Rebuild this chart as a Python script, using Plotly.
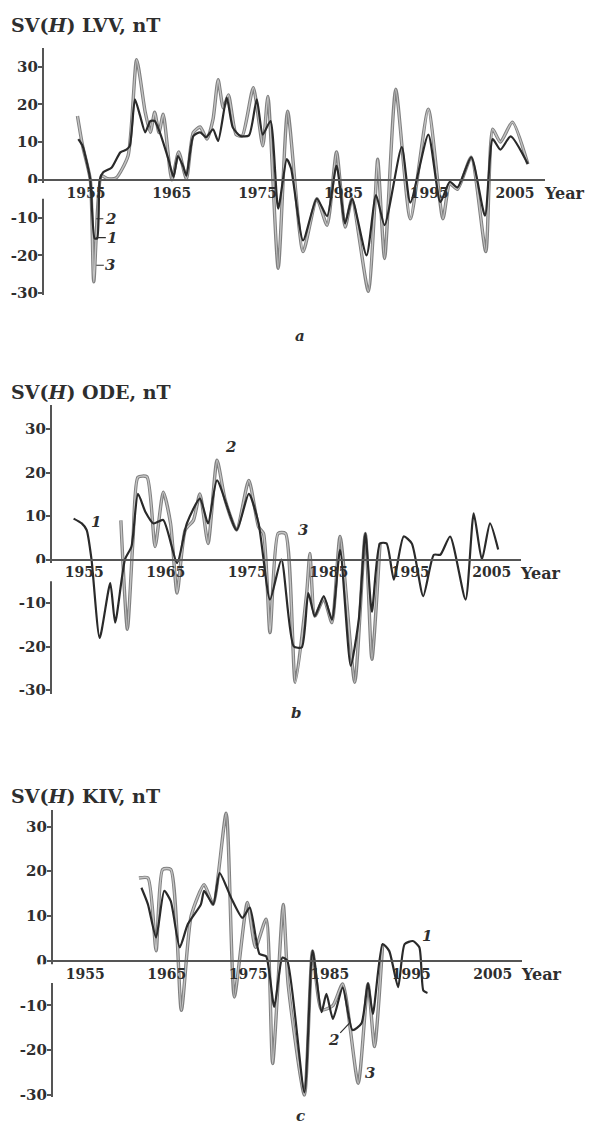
import plotly.graph_objects as go

# ---------------- data ----------------
# Panel a: LVV
years_a1 = [1954.1, 1954.6, 1955.0, 1955.5, 1956.0, 1956.3, 1956.6, 1957.0, 1958.0, 1959.0,
            1959.7, 1960.1, 1960.7, 1961.3, 1961.9, 1962.5, 1963.0, 1963.6, 1964.6, 1965.2,
            1965.7, 1966.3, 1966.7, 1967.5, 1968.3, 1969.0, 1969.8, 1970.4, 1971.4, 1972.1,
            1973.0, 1974.0, 1974.9, 1975.6, 1976.5, 1977.4, 1978.4, 1978.9, 1980.3, 1981.9,
            1983.1, 1984.2, 1985.2, 1986.0, 1987.7, 1988.8, 1989.8, 1991.8, 1992.8, 1994.9,
            1996.3, 1997.4, 1998.3, 1999.9, 2001.5, 2002.4, 2003.3, 2004.5, 2006.5]
sv_a1 = [10.8, 9, 5.5, 0, -15.5, -15.5, 0, 2, 3.3, 7.3,
         8, 9, 21.3, 17, 12.6, 15.6, 15.6, 12.6, 5.5, 0.8,
         6.3, 3.7, 1.1, 11.6, 12.6, 11.3, 13.4, 10.3, 21.8, 13.9,
         11.6, 11.8, 21.3, 12, 15.6, -7.6, 5.5, 3, -16, -5,
         -9.6, 3.8, -11.5, -5, -20, -4, -12, 8.7, -6, 12,
         -5.9, -0.5, -2, 6, -9.5, 10.8, 8, 11.5, 4.2]
years_a3 = [1954.0, 1954.6, 1955.5, 1955.9, 1956.8, 1957.5, 1958.5, 1959.9, 1960.9, 1961.9,
            1962.5, 1963.0, 1963.5, 1964.0, 1965.0, 1965.8, 1966.7, 1967.5, 1968.3, 1969.1,
            1969.8, 1970.4, 1971.0, 1971.6, 1972.5, 1973.2, 1974.5, 1975.6, 1976.2, 1977.4,
            1978.5, 1980.3, 1981.9, 1983.1, 1984.2, 1985.2, 1986.0, 1987.9, 1988.7, 1989.0,
            1989.8, 1991.1, 1992.8, 1994.9, 1996.6, 1997.4, 1998.3, 1999.9, 2001.6, 2002.4,
            2003.3, 2004.7, 2006.5]
sv_a3 = [16.9, 9, 0, -27, 1.1, 0.3, 0.5, 6.4, 31.8, 17.9,
         12.6, 17.9, 12.5, 17.4, 0, 7.4, 0.3, 12.5, 14, 10.8,
         16, 26.5, 19, 22.5, 12, 11.6, 24.4, 9, 22.1, -23.4,
         18.2, -19, -5, -12, 7.4, -12.5, -5, -29.5, -5, 5.5,
         -20.8, 24, -10.3, 18.7, -10.3, -1, -2.5, 6, -19, 13.4,
         10, 15.3, 4.2]

# Panel b: ODE
years_b1 = [1953.7, 1954.7, 1955.3, 1955.9, 1956.9, 1958.2, 1958.8, 1960.0, 1960.8, 1961.6,
            1962.5, 1963.5, 1964.7, 1966.4, 1967.6, 1969.2, 1970.2, 1971.3, 1973.7, 1975.2,
            1976.4, 1977.8, 1979.2, 1980.7, 1981.7, 1982.5, 1983.3, 1984.4, 1985.4, 1986.4,
            1987.7, 1988.7, 1989.5, 1990.3, 1991.3, 1992.1, 1993.0, 1994.2, 1995.2, 1996.6,
            1997.9, 1998.7, 1999.9, 2001.8, 2002.8, 2003.8, 2004.8, 2005.8]
sv_b1 = [9.4, 8.3, 6.8, 0, -18, -5.4, -14.5, 0, 3, 15.1,
         11, 8.3, 9.1, -0.8, 8.3, 14, 8.3, 18.2, 6.8, 15.1,
         8.3, -9.2, 0, -19.9, -20.2, -7.7, -13, -8.4, -13.8, 2.2,
         -24.4, -13.7, 6, -12, 3.7, 3.7, -4.6, 5.3, 3.7, -8.4,
         1.1, 1.1, 5.3, -9.2, 10.6, 0, 8.3, 2.3]
years_b3 = [1959.5, 1960.3, 1961.0, 1961.6, 1962.7, 1963.7, 1964.7, 1965.6, 1966.4, 1967.4,
            1968.4, 1969.2, 1970.2, 1971.3, 1972.3, 1973.7, 1975.2, 1976.4, 1977.0, 1977.8,
            1978.8, 1979.7, 1980.9, 1982.3, 1982.7, 1983.3, 1984.4, 1985.4, 1986.4, 1988.2,
            1989.5, 1990.3, 1991.3]
sv_b3 = [9, -16, 5, 18.9, 19, 3, 15.5, 8.3, -7.7, 6.8,
         9, 15.1, 3.7, 22.8, 13.7, 6.8, 18.2, 7.5, 6, -16.8,
         6, 6, -28.2, -7.7, 1.4, -13, -9, -14.5, 5.3, -28.2,
         6, -22.9, 3.7]

# Panel c: KIV
years_c1 = [1961.9, 1962.7, 1963.7, 1964.7, 1965.5, 1966.6, 1967.6, 1969.2, 1969.6, 1970.7,
            1971.5, 1972.9, 1974.3, 1975.2, 1976.4, 1977.2, 1978.2, 1979.2, 1979.8, 1981.9,
            1982.9, 1984.0, 1984.6, 1985.4, 1986.6, 1987.8, 1988.9, 1989.7, 1990.3, 1991.5,
            1992.3, 1993.4, 1994.2, 1995.2, 1996.0, 1996.5, 1997.0]
sv_c1 = [16.3, 12.6, 5.2, 15.6, 13.3, 3, 8.2, 12.6, 15.6, 12.6,
         19.6, 14.1, 9.6, 11.9, 1.5, 1, -10.3, 0.7, 0, -29.4,
         2.2, -11.5, -7.4, -13, -6, -15.5, -14, -5, -11.9, 3.7,
         2.2, -5.9, 3.7, 4.4, 3, -6.7, -7.2]
years_c3 = [1961.6, 1962.7, 1963.7, 1964.5, 1965.5, 1966.8, 1968.0, 1969.6, 1970.7, 1972.3,
            1973.3, 1974.9, 1975.9, 1977.2, 1978.0, 1979.3, 1979.9, 1981.9, 1982.9, 1984.0,
            1985.4, 1986.6, 1988.5, 1989.7, 1990.5, 1991.5]
sv_c3 = [18.5, 18.5, 2.2, 20.4, 20.4, -11.1, 10, 17, 12.6, 33,
         -8.1, 13, 3, 9.3, -23, 12.6, -5.2, -30, 2.2, -11,
         -10, -5.2, -27.4, -5.2, -19.2, 3.7]

x_tick_years = [1955, 1965, 1975, 1985, 1995, 2005]
y_tick_vals = [-30, -20, -10, 0, 10, 20, 30]
y_tick_text = ["-30", "-20", "-10", "0", "10", "20", "30"]
stations = ["LVV", "ODE", "KIV"]
panel_letters = ["a", "b", "c"]

# ---------------- layout geometry (pixels) ----------------
W, H = 592, 1131
FONT = "DejaVu Serif"
INK = "#2e2e2e"
AXIS = "#555555"

panels = [
    dict(xs=[years_a1, years_a3], ys=[sv_a1, sv_a3], xpx=(44, 545), ypx=(48, 296.9),
         xr=[1950.1, 2008.5], yr=[-30.5, 35], title_y=25, letter=(300, 338)),
    dict(xs=[years_b1, years_b3], ys=[sv_b1, sv_b3], xpx=(52, 521), ypx=(408, 698.8),
         xr=[1951.05, 2008.6], yr=[-31, 35.4], title_y=394, letter=(296, 717)),
    dict(xs=[years_c1, years_c3], ys=[sv_c1, sv_c3], xpx=(53, 522), ypx=(815, 1104),
         xr=[1951.05, 2008.6], yr=[-30.5, 33.7], title_y=801, letter=(300, 1123)),
]

fig = go.Figure()
annotations = []
shapes = []
SMOOTH = 0.6

for i, p in enumerate(panels):
    n = "" if i == 0 else str(i + 1)
    xa, ya = "x" + n, "y" + n
    xdom = [p["xpx"][0] / W, p["xpx"][1] / W]
    ydom = [1 - p["ypx"][1] / H, 1 - p["ypx"][0] / H]
    y0, y1 = p["yr"]
    zero_frac = ydom[0] + (0 - y0) / (y1 - y0) * (ydom[1] - ydom[0])

    # curve 3 (grey, outlined) then curve 1 (black)
    fig.add_trace(go.Scatter(x=p["xs"][1], y=p["ys"][1], mode="lines", xaxis=xa, yaxis=ya,
                             line=dict(color="#808080", width=3.4, shape="spline",
                                       smoothing=SMOOTH), showlegend=False))
    fig.add_trace(go.Scatter(x=p["xs"][1], y=p["ys"][1], mode="lines", xaxis=xa, yaxis=ya,
                             line=dict(color="#c4c4c4", width=1.4, shape="spline",
                                       smoothing=SMOOTH), showlegend=False))
    fig.add_trace(go.Scatter(x=p["xs"][0], y=p["ys"][0], mode="lines", xaxis=xa, yaxis=ya,
                             line=dict(color="#2a2a2a", width=2.2, shape="spline",
                                       smoothing=SMOOTH), showlegend=False))

    fig.update_layout(**{
        "xaxis" + n: dict(domain=xdom, range=p["xr"], anchor="free", position=zero_frac,
                          showline=True, linecolor=AXIS, linewidth=2.2, showgrid=False,
                          zeroline=False, ticks="", tickvals=x_tick_years,
                          ticktext=[str(v) for v in x_tick_years],
                          tickfont=dict(family=FONT, size=14, color=INK, weight="bold")),
        "yaxis" + n: dict(domain=ydom, range=p["yr"], anchor=xa, showline=True,
                          linecolor=AXIS, linewidth=2.2, showgrid=False, zeroline=False,
                          ticks="outside", ticklen=4, tickwidth=1.5, tickcolor=AXIS,
                          ticklabelstandoff=-3,
                          tickvals=y_tick_vals, ticktext=y_tick_text,
                          tickfont=dict(family=FONT, size=15, color=INK, weight="bold")),
    })

    # white gap in the y axis just under the zero line
    shapes.append(dict(type="rect", xref=xa + " domain", yref=ya, x0=-0.03, x1=0.015,
                       y0=-5, y1=-0.8, fillcolor="white", line=dict(width=0), layer="above"))

    # "Year" label at the end of the time axis
    annotations.append(dict(xref=xa + " domain", yref=ya, x=1, y=0, xanchor="left",
                            yanchor="top", xshift=-3, yshift=-2, showarrow=False, text="Year",
                            font=dict(family=FONT, size=16, color=INK, weight="bold")))
    # panel title
    annotations.append(dict(xref="paper", yref="paper", x=9 / W, y=1 - p["title_y"] / H,
                            xanchor="left", yanchor="middle", showarrow=False,
                            text="SV(<i>H</i>) " + stations[i] + ", nT",
                            font=dict(family=FONT, size=19, color=INK, weight="bold")))
    # panel letter
    annotations.append(dict(xref="paper", yref="paper", x=p["letter"][0] / W,
                            y=1 - p["letter"][1] / H, xanchor="center", yanchor="middle",
                            showarrow=False, text="<i>" + panel_letters[i] + "</i>",
                            font=dict(family=FONT, size=15, color=INK, weight="bold")))

# curve-number labels
lab_font = dict(family=FONT, size=15, color=INK, weight="bold")
curve_labels = [
    # (axis suffix, x, y, text, ax, ay)  ax None -> plain text
    ("", 1956.2, -10.3, "2", 14, 0),
    ("", 1956.2, -15.3, "1", 16, 0),
    ("", 1956.2, -22.6, "3", 14, 0),
    ("2", 1956.4, 8.7, "1", None, None),
    ("2", 1972.9, 25.8, "2", None, None),
    ("2", 1981.9, 6.8, "3", None, None),
    ("3", 1997.0, 5.6, "1", None, None),
    ("3", 1987.4, -14.0, "2", -16, 17),
    ("3", 1989.9, -25.2, "3", None, None),
]
for suf, x, y, t, ax, ay in curve_labels:
    a = dict(xref="x" + suf, yref="y" + suf, x=x, y=y, text="<i>" + t + "</i>", font=lab_font)
    if ax is None:
        a.update(showarrow=False)
    else:
        a.update(showarrow=True, arrowhead=0, arrowwidth=1.2, arrowcolor=INK, ax=ax, ay=ay,
                 standoff=0)
    annotations.append(a)

fig.update_layout(width=W, height=H, margin=dict(l=0, r=0, t=0, b=0),
                  paper_bgcolor="white", plot_bgcolor="white",
                  annotations=annotations, shapes=shapes, showlegend=False)

# remove the browser's default page margin so the figure fills the window exactly
fig.write_html("out.html", config={"displayModeBar": False},
               post_script="document.body.style.margin='0';document.body.style.overflow='hidden';")
